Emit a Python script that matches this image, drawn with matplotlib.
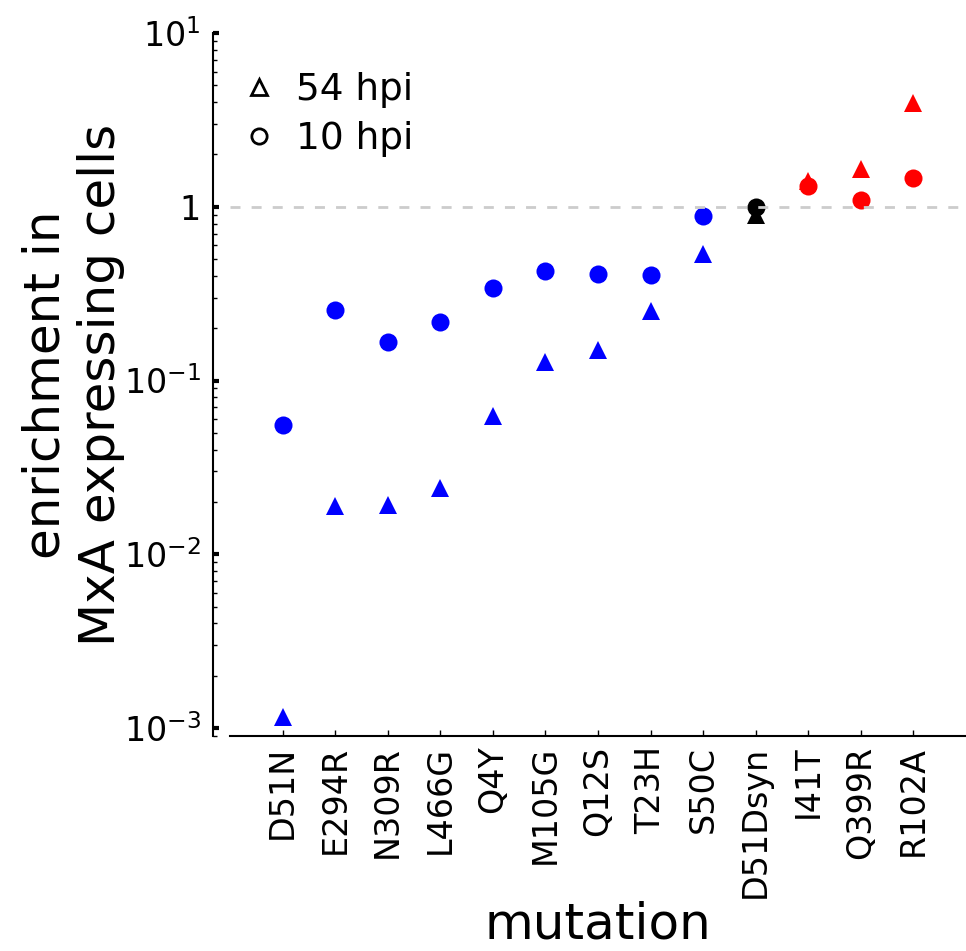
import matplotlib
matplotlib.use("Agg")
import matplotlib.pyplot as plt
from matplotlib.lines import Line2D
from matplotlib.ticker import FixedLocator, FixedFormatter, LogLocator

mutations = ['D51N', 'E294R', 'N309R', 'L466G', 'Q4Y', 'M105G', 'Q12S',
             'T23H', 'S50C', 'D51Dsyn', 'I41T', 'Q399R', 'R102A']
hpi10 = [0.0556, 0.256, 0.166, 0.216, 0.339, 0.424, 0.409,
         0.407, 0.879, 0.994, 1.31, 1.096, 1.47]
hpi54 = [0.00115, 0.0189, 0.0193, 0.0242, 0.0622, 0.127, 0.149,
         0.250, 0.532, 0.90, 1.40, 1.65, 3.95]
colors = ['blue'] * 9 + ['black'] + ['red'] * 3

ytick_vals = [1e-3, 1e-2, 1e-1, 1, 10]
ytick_labels = ['$10^{-3}$', '$10^{-2}$', '$10^{-1}$', '1', '$10^{1}$']

fig = plt.figure(figsize=(9.66, 9.51), dpi=100)
ax = fig.add_axes([230 / 966, 1 - 736 / 951, 736 / 966, 703 / 951])

xs = list(range(len(mutations)))
for x, y, c in zip(xs, hpi54, colors):
    ax.plot(x, y, marker='^', color=c, markersize=13, mew=0,
            linestyle='none', clip_on=False, zorder=2)
for x, y, c in zip(xs, hpi10, colors):
    ax.plot(x, y, marker='o', color=c, markersize=13, mew=0,
            linestyle='none', clip_on=False, zorder=2)

ax.axhline(1, color='#cccccc', lw=2, linestyle=(0, (3.6, 4)), zorder=3)

ax.set_yscale('log')
ax.set_ylim(10 ** -3.046, 10)
ax.set_xlim(-1, 13)

ax.yaxis.set_major_locator(FixedLocator(ytick_vals))
ax.yaxis.set_major_formatter(FixedFormatter(ytick_labels))
ax.yaxis.set_minor_locator(LogLocator(base=10, subs=range(2, 10)))
ax.set_xticks(xs)
ax.set_xticklabels(mutations, rotation=90)

ax.spines['top'].set_visible(False)
ax.spines['right'].set_visible(False)
ax.spines['left'].set_position(('outward', 12))
ax.spines['left'].set_linewidth(1.5)
ax.spines['bottom'].set_linewidth(1.5)

ax.tick_params(axis='y', which='major', direction='in', length=4.5,
               width=3, labelsize=24, pad=9)
ax.tick_params(axis='y', which='minor', direction='in', length=3, width=1)
ax.tick_params(axis='x', which='major', direction='in', length=4,
               width=1, labelsize=24, pad=7)

ax.set_xlabel('mutation', fontsize=36, va='baseline')
ax.xaxis.set_label_coords(0.5, -0.288)
ax.set_ylabel('enrichment in\nMxA expressing cells', fontsize=36)
ax.yaxis.set_label_coords(-0.143, 0.5)

handles = [
    Line2D([], [], marker='^', linestyle='none', markerfacecolor='none',
           markeredgecolor='black', markersize=11, mew=2),
    Line2D([], [], marker='o', linestyle='none', markerfacecolor='none',
           markeredgecolor='black', markersize=11, mew=2),
]
ax.legend(handles, ['54 hpi', '10 hpi'], loc='upper left',
          bbox_to_anchor=(0.016, 0.945), frameon=False, fontsize=27,
          handlelength=0.9, handletextpad=0.55, borderpad=0,
          borderaxespad=0, labelspacing=0.35)

fig.savefig('out.png', dpi=100)
